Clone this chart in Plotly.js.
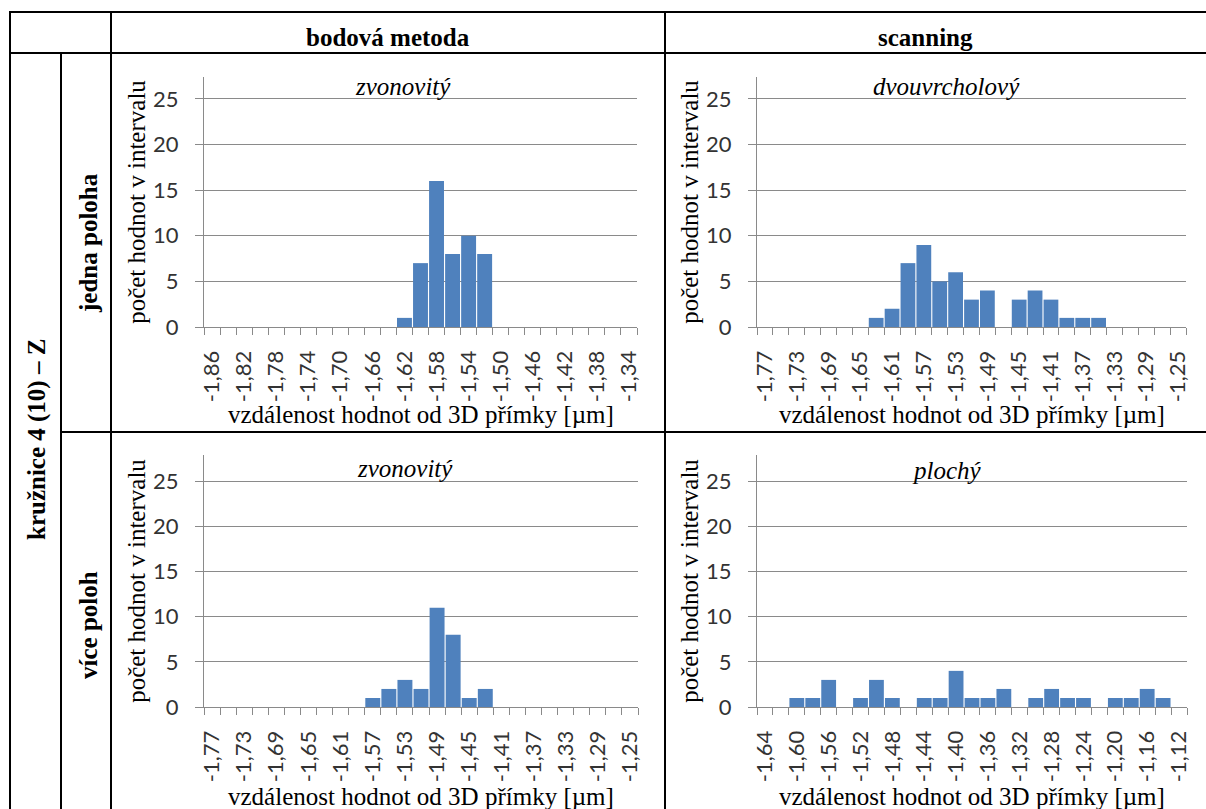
<!DOCTYPE html>
<html>
<head>
<meta charset="utf-8">
<script src="https://cdn.plot.ly/plotly-3.0.1.min.js"></script>
<style>
  html, body { margin: 0; padding: 0; background: #ffffff; }
  #chart { width: 1206px; height: 809px; }
</style>
</head>
<body>
<div id="chart"></div>
<script>
// Histogram bins (class centres, µm) and counts per bin for each panel
const bins1 = [-1.86, -1.84, -1.82, -1.80, -1.78, -1.76, -1.74, -1.72, -1.70, -1.68, -1.66, -1.64, -1.62, -1.60,
               -1.58, -1.56, -1.54, -1.52, -1.50, -1.48, -1.46, -1.44, -1.42, -1.40, -1.38, -1.36, -1.34];
const counts1 = [0, 0, 0, 0, 0, 0, 0, 0, 0, 0, 0, 0, 1, 7, 16, 8, 10, 8, 0, 0, 0, 0, 0, 0, 0, 0, 0];

const bins2 = [-1.77, -1.75, -1.73, -1.71, -1.69, -1.67, -1.65, -1.63, -1.61, -1.59, -1.57, -1.55, -1.53, -1.51,
               -1.49, -1.47, -1.45, -1.43, -1.41, -1.39, -1.37, -1.35, -1.33, -1.31, -1.29, -1.27, -1.25];
const counts2 = [0, 0, 0, 0, 0, 0, 0, 1, 2, 7, 9, 5, 6, 3, 4, 0, 3, 4, 3, 1, 1, 1, 0, 0, 0, 0, 0];

const bins3 = [-1.77, -1.75, -1.73, -1.71, -1.69, -1.67, -1.65, -1.63, -1.61, -1.59, -1.57, -1.55, -1.53, -1.51,
               -1.49, -1.47, -1.45, -1.43, -1.41, -1.39, -1.37, -1.35, -1.33, -1.31, -1.29, -1.27, -1.25];
const counts3 = [0, 0, 0, 0, 0, 0, 0, 0, 0, 0, 1, 2, 3, 2, 11, 8, 1, 2, 0, 0, 0, 0, 0, 0, 0, 0, 0];

const bins4 = [-1.64, -1.62, -1.60, -1.58, -1.56, -1.54, -1.52, -1.50, -1.48, -1.46, -1.44, -1.42, -1.40, -1.38,
               -1.36, -1.34, -1.32, -1.30, -1.28, -1.26, -1.24, -1.22, -1.20, -1.18, -1.16, -1.14, -1.12];
const counts4 = [0, 0, 1, 1, 3, 0, 1, 3, 1, 0, 1, 1, 4, 1, 1, 2, 0, 1, 2, 1, 1, 0, 1, 1, 2, 1, 0];

// Axis labels (every second bin, decimal comma)
const ticks1 = ["-1,86", "-1,82", "-1,78", "-1,74", "-1,70", "-1,66", "-1,62", "-1,58", "-1,54", "-1,50", "-1,46", "-1,42", "-1,38", "-1,34"];
const ticks2 = ["-1,77", "-1,73", "-1,69", "-1,65", "-1,61", "-1,57", "-1,53", "-1,49", "-1,45", "-1,41", "-1,37", "-1,33", "-1,29", "-1,25"];
const ticks3 = ["-1,77", "-1,73", "-1,69", "-1,65", "-1,61", "-1,57", "-1,53", "-1,49", "-1,45", "-1,41", "-1,37", "-1,33", "-1,29", "-1,25"];
const ticks4 = ["-1,64", "-1,60", "-1,56", "-1,52", "-1,48", "-1,44", "-1,40", "-1,36", "-1,32", "-1,28", "-1,24", "-1,20", "-1,16", "-1,12"];

// Text
const panelTitles = ["zvonovitý", "dvouvrcholový", "zvonovitý", "plochý"];
const columnHeads = ["bodová metoda", "scanning"];
const rowHeads = ["jedna poloha", "více poloh"];
const groupHead = "kružnice 4 (10) – Z";
const xTitle = "vzdálenost hodnot od 3D přímky [µm]";
const yTitle = "počet hodnot v intervalu";

// ---- page geometry (pixels) ----
const W = 1206, H = 809;
const px = v => v / W;
const py = v => 1 - v / H;

const BAR = "#4f81bd";
const GRID = "#8a8a8a";
const TICKTXT = "#333333";
const SERIF = "Liberation Serif, Times New Roman, serif";
const SANS = "Lato, Carlito, Calibri, sans-serif";

// plot areas: [left, right, top(axis top), bottom(zero line)], y max, x-title row
const panels = [
  { bins: bins1, counts: counts1, ticks: ticks1, box: [204, 637, 77, 327], ymax: 27.4, titleY: 415 },
  { bins: bins2, counts: counts2, ticks: ticks2, box: [757, 1186, 77, 327], ymax: 27.4, titleY: 415 },
  { bins: bins3, counts: counts3, ticks: ticks3, box: [204, 638, 455, 707], ymax: 27.9, titleY: 796 },
  { bins: bins4, counts: counts4, ticks: ticks4, box: [757, 1187, 455, 707], ymax: 27.9, titleY: 796 }
];

const data = [];
const layout = {
  width: W, height: H,
  margin: { l: 0, r: 0, t: 0, b: 0, pad: 0 },
  paper_bgcolor: "#ffffff",
  plot_bgcolor: "#ffffff",
  showlegend: false,
  bargap: 0.07,
  hovermode: false,
  shapes: [],
  annotations: []
};

panels.forEach((p, i) => {
  const n = i === 0 ? "" : String(i + 1);
  const step = Math.abs(p.bins[1] - p.bins[0]);
  const edges = p.bins.map(b => b - step / 2).concat([p.bins[p.bins.length - 1] + step / 2]);
  const tickvals = p.ticks.map(t => parseFloat(t.replace(",", ".")));

  data.push({
    type: "bar",
    x: p.bins,
    y: p.counts,
    xaxis: "x" + n,
    yaxis: "y" + n,
    marker: { color: BAR, line: { width: 0 } },
    hoverinfo: "skip"
  });

  const [l, r, t, b] = p.box;
  layout["xaxis" + n] = {
    domain: [px(l), px(r)],
    anchor: "y" + n,
    range: [edges[0], edges[edges.length - 1]],
    tickmode: "array",
    tickvals: tickvals,
    ticktext: p.ticks,
    tickangle: -90,
    ticks: "outside",
    ticklen: 7,
    tickcolor: "rgba(0,0,0,0)",
    ticklabelstandoff: 7,
    tickfont: { family: SANS, size: 22, color: TICKTXT },
    minor: { tickmode: "array", tickvals: edges, ticks: "outside", ticklen: 7, tickcolor: GRID, tickwidth: 1, showgrid: false },
    showline: true, linecolor: GRID, linewidth: 1,
    showgrid: false, zeroline: false,
    fixedrange: true
  };
  layout["yaxis" + n] = {
    domain: [py(b), py(t)],
    anchor: "x" + n,
    range: [0, p.ymax],
    tickmode: "linear", tick0: 0, dtick: 5,
    ticks: "outside", ticklen: 8, tickcolor: GRID, tickwidth: 1,
    ticklabelstandoff: 12,
    tickfont: { family: SANS, size: 22, color: TICKTXT },
    showline: true, linecolor: GRID, linewidth: 1,
    showgrid: true, gridcolor: GRID, gridwidth: 1,
    zeroline: false,
    fixedrange: true,
    title: { text: yTitle, font: { family: SERIF, size: 25, color: "#000000" }, standoff: 0 }
  };

  // x-axis title, centred under the plot area just below the rotated labels
  layout.annotations.push({
    text: xTitle, xref: "paper", yref: "paper",
    x: px((l + r) / 2), y: py(p.titleY), xanchor: "center", yanchor: "middle",
    showarrow: false, font: { family: SERIF, size: 25, color: "#000000" }
  });
});

// panel titles
const titlePos = [[403, 86], [946, 86], [405, 468], [947, 470]];
panelTitles.forEach((t, i) => {
  layout.annotations.push({
    text: "<i>" + t + "</i>", xref: "paper", yref: "paper",
    x: px(titlePos[i][0]), y: py(titlePos[i][1]), xanchor: "center", yanchor: "middle",
    showarrow: false, font: { family: SERIF, size: 25, color: "#000000" }
  });
});

// table headers
const headFont = { family: SERIF, size: 25, color: "#000000" };
layout.annotations.push(
  { text: "<b>" + columnHeads[0] + "</b>", xref: "paper", yref: "paper", x: px(388), y: py(37),
    xanchor: "center", yanchor: "middle", showarrow: false, font: headFont },
  { text: "<b>" + columnHeads[1] + "</b>", xref: "paper", yref: "paper", x: px(926), y: py(37),
    xanchor: "center", yanchor: "middle", showarrow: false, font: headFont },
  { text: "<b>" + rowHeads[0] + "</b>", xref: "paper", yref: "paper", x: px(88), y: py(243),
    xanchor: "center", yanchor: "middle", textangle: -90, showarrow: false, font: headFont },
  { text: "<b>" + rowHeads[1] + "</b>", xref: "paper", yref: "paper", x: px(88), y: py(625),
    xanchor: "center", yanchor: "middle", textangle: -90, showarrow: false, font: headFont },
  { text: "<b>" + groupHead + "</b>", xref: "paper", yref: "paper", x: px(37), y: py(440),
    xanchor: "center", yanchor: "middle", textangle: -90, showarrow: false, font: headFont }
);

// table rules
const rule = (x0, y0, x1, y1) => ({
  type: "line", xref: "paper", yref: "paper",
  x0: px(x0), y0: py(y0), x1: px(x1), y1: py(y1),
  line: { color: "#000000", width: 2 }
});
layout.shapes.push(
  rule(9, 12, 1206, 12),
  rule(9, 53, 1206, 53),
  rule(61, 432, 1206, 432),
  rule(10, 11, 10, 809),
  rule(61, 53, 61, 809),
  rule(111, 11, 111, 809),
  rule(665, 11, 665, 809)
);

Plotly.newPlot("chart", data, layout, { staticPlot: true, displayModeBar: false });
</script>
</body>
</html>
